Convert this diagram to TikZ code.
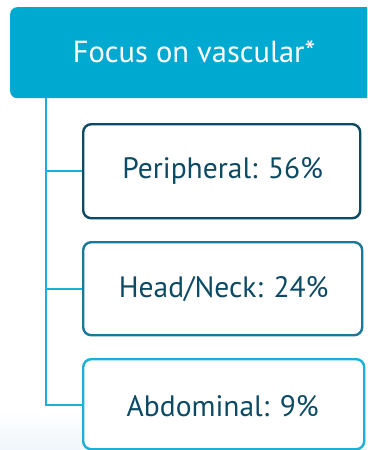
\documentclass[tikz,border=0pt]{standalone}
\usepackage{fontspec}
\setmainfont{PT Sans}
\definecolor{topfill}{HTML}{00A9D0}
\definecolor{linecol}{HTML}{1AAFD6}
\definecolor{darkb}{HTML}{0D4A63}
\definecolor{midb}{HTML}{1A7898}
\definecolor{lightb}{HTML}{1AB0D8}
\definecolor{txt}{HTML}{0D4A63}
\begin{document}
\begin{tikzpicture}[x=1pt,y=-1pt,
  leafbox/.style={draw, line width=2.4pt, rounded corners=8pt, fill=white, inner sep=0pt},
  leaftext/.style={text=txt, font=\fontsize{29.5}{32}\selectfont},
  branch/.style={draw=linecol, line width=2.2pt}]
\useasboundingbox (0,0) rectangle (367,450);
\fill[white] (0,0) rectangle (367,450);
\shade[top color=white, bottom color={rgb,255:red,240;green,246;blue,251}] (0,410) rectangle (367,450);
\begin{scope}
\clip (0,0) rectangle (367,450);
\node[fill=topfill, rounded corners=7pt, minimum width=370pt, minimum height=91pt, anchor=north west, inner sep=0pt] (top) at (10,7) {};
\node[text=white, font=\fontsize{30.5}{34}\selectfont] (toptext) at (194,52) {Focus on vascular*};
\node[leafbox, draw=darkb, minimum width=277pt, minimum height=94pt, anchor=north west] (p) at (82,123) {};
\node[leaftext] at ([xshift=1pt]p.center) {Peripheral: 56\%};
\node[leafbox, draw=midb, minimum width=279pt, minimum height=93pt, anchor=north west] (h) at (82,241) {};
\node[leaftext] at ([xshift=1pt]h.center) {Head/Neck: 24\%};
\node[leafbox, draw=lightb, minimum width=281pt, minimum height=90pt, anchor=north west] (a) at (82,358) {};
\node[leaftext] at ([xshift=-1pt,yshift=-2pt]a.center) {Abdominal: 9\%};
\coordinate (trunk) at (46,98);
\coordinate (bend) at (46,405);
\draw[branch] (trunk) -- (bend) -- (a.west |- bend);
\draw[branch] (trunk |- p.west) -- (p.west);
\draw[branch] (trunk |- h.west) -- (h.west);
\end{scope}
\end{tikzpicture}
\end{document}
